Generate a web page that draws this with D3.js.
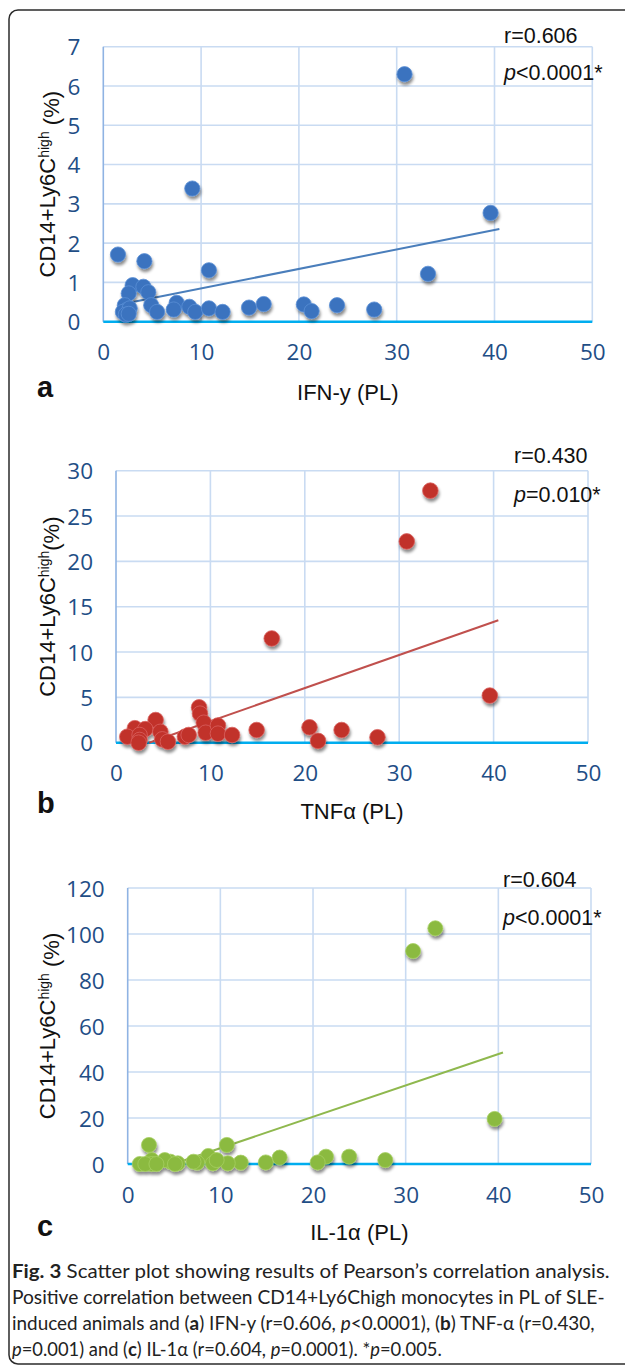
<!DOCTYPE html>
<html>
<head>
<meta charset="utf-8">
<script src="https://cdn.jsdelivr.net/npm/d3@7"></script>
<style>
  body { margin: 0; background: #fff; }
  svg { display: block; }
</style>
</head>
<body>
<div id="chart"></div>
<script>
// values
const xTicks = [0, 10, 20, 30, 40, 50]

const ifnX = [30.8, 9.1, 39.6, 1.5, 4.2, 10.8, 33.2, 3.0, 4.1, 2.6, 4.6, 2.2, 2.4, 2.0, 2.7, 4.9, 5.5, 7.5, 7.2, 8.8, 9.4, 10.8, 12.2, 14.9, 16.4, 20.5, 21.3, 23.9, 27.7, 2.3, 2.6]
const ifnY = [6.30, 3.39, 2.77, 1.71, 1.54, 1.31, 1.22, 0.93, 0.89, 0.72, 0.75, 0.42, 0.30, 0.25, 0.34, 0.42, 0.25, 0.48, 0.31, 0.38, 0.25, 0.34, 0.25, 0.36, 0.45, 0.44, 0.27, 0.42, 0.31, 0.18, 0.20]
const ifnTicks = [0, 1, 2, 3, 4, 5, 6, 7]
const ifnTrend = [[3.0, 0.50], [40.5, 2.36]]

const tnfX = [33.3, 30.8, 16.5, 39.6, 8.8, 8.9, 9.3, 9.5, 10.8, 10.8, 12.3, 14.9, 20.5, 21.4, 23.9, 27.7, 4.2, 2.0, 3.1, 4.7, 1.2, 2.5, 2.5, 2.4, 4.9, 5.5, 7.3, 7.7]
const tnfY = [27.8, 22.2, 11.5, 5.2, 3.9, 3.2, 2.2, 1.1, 1.9, 1.0, 0.85, 1.4, 1.7, 0.2, 1.4, 0.6, 2.5, 1.6, 1.5, 1.2, 0.66, 0.85, 0.3, 0.0, 0.37, 0.11, 0.66, 0.85]
const tnfTicks = [0, 5, 10, 15, 20, 25, 30]
const tnfTrend = [[3.5, 0.0], [40.5, 13.5]]

const il1X = [33.2, 30.8, 39.6, 2.3, 10.7, 8.7, 16.4, 21.4, 23.9, 27.8, 20.5, 14.9, 12.2, 10.8, 9.2, 7.5, 7.1, 5.4, 4.6, 4.0, 2.6, 2.6, 1.3, 1.9, 5.1, 9.6, 3.1]
const il1Y = [102.5, 92.6, 19.6, 8.3, 8.3, 3.5, 2.8, 3.2, 3.2, 1.7, 0.7, 0.7, 0.6, 0.3, 0.3, 0.6, 1.0, 0.3, 1.0, 1.7, 1.7, 0, 0, 0, 0, 1.7, 0]
const il1Ticks = [0, 20, 40, 60, 80, 100, 120]
const il1Trend = [[5.5, 0.75], [40.5, 48.5]]

const width = 625
const height = 1368

const svg = d3.select("#chart")
    .append("svg")
    .attr("width", width)
    .attr("height", height)

const defs = svg.append("defs")
defs.append("filter")
    .attr("id", "shadow")
    .attr("x", "-50%").attr("y", "-50%")
    .attr("width", "200%").attr("height", "200%")
  .append("feDropShadow")
    .attr("dx", 1).attr("dy", 3)
    .attr("stdDeviation", 1.8)
    .attr("flood-color", "#000")
    .attr("flood-opacity", 0.45)

// outer frame (right edge runs off the picture)
svg.append("rect")
    .attr("x", 9).attr("y", 10)
    .attr("width", 640).attr("height", 1354)
    .attr("rx", 9)
    .attr("fill", "none")
    .attr("stroke", "#2b2b2b")
    .attr("stroke-width", 1.5)

const panels = [
  { xs: ifnX, ys: ifnY, ticks: ifnTicks, trend: ifnTrend,
    left: 103.3, right: 592.3, top: 46.7, bottom: 321.7,
    fill: "#3b73bf", rim: "#5a8fd6", line: "#4a7ebb", r: 7.6,
    letter: "a", letterY: 397, title: "IFN-y (PL)", titleY: 400,
    yTitleRest: " (%)", rText: "r=0.606", pRel: "<", pVal: "0.0001*",
    statX: 504, rY: 43, pY: 80 },
  { xs: tnfX, ys: tnfY, ticks: tnfTicks, trend: tnfTrend,
    left: 116, right: 588, top: 470.7, bottom: 742.7,
    fill: "#c1302b", rim: "#d9635e", line: "#c0504d", r: 7.8,
    letter: "b", letterY: 813, title: "TNFα (PL)", titleY: 819,
    yTitleRest: "(%)", rText: "r=0.430", pRel: "=", pVal: "0.010*",
    statX: 514, rY: 463, pY: 502 },
  { xs: il1X, ys: il1Y, ticks: il1Ticks, trend: il1Trend,
    left: 127.7, right: 591, top: 888, bottom: 1164,
    fill: "#8bba3f", rim: "#a6cf62", line: "#8fb84e", r: 7.5,
    letter: "c", letterY: 1236, title: "IL-1α (PL)", titleY: 1240,
    yTitleRest: " (%)", rText: "r=0.604", pRel: "<", pVal: "0.0001*",
    statX: 503, rY: 887, pY: 925 }
]

panels.forEach(p => drawPanel(p))

function drawPanel(p) {
  const g = svg.append("g")
  const yMax = p.ticks[p.ticks.length - 1]

  const x = d3.scaleLinear().domain([0, 50]).range([p.left, p.right])
  const y = d3.scaleLinear().domain([0, yMax]).range([p.bottom, p.top])

  // grid
  g.selectAll(".hgrid")
      .data(p.ticks.slice(1))
      .join("line")
      .attr("x1", p.left).attr("x2", p.right)
      .attr("y1", d => y(d)).attr("y2", d => y(d))
      .attr("stroke", "#c9dbf2")
      .attr("stroke-width", 1.6)
  g.selectAll(".vgrid")
      .data(xTicks.slice(1))
      .join("line")
      .attr("x1", d => x(d)).attr("x2", d => x(d))
      .attr("y1", p.top).attr("y2", p.bottom)
      .attr("stroke", "#c9dbf2")
      .attr("stroke-width", 1.6)
  // left border
  g.append("line")
      .attr("x1", p.left).attr("x2", p.left)
      .attr("y1", p.top).attr("y2", p.bottom)
      .attr("stroke", "#8fb3e3")
      .attr("stroke-width", 1.6)

  // axes labels via d3 axes
  const yAxis = g.append("g")
      .attr("transform", `translate(${p.left - 23},0)`)
      .call(d3.axisLeft(y).tickValues(p.ticks).tickFormat(d3.format("d")).tickSize(0).tickPadding(0))
  const xAxis = g.append("g")
      .attr("transform", `translate(0,${p.bottom + 34})`)
      .call(d3.axisBottom(x).tickValues(xTicks).tickFormat(d3.format("d")).tickSize(0).tickPadding(0))
  ;[yAxis, xAxis].forEach(a => {
    a.select(".domain").remove()
    a.selectAll("text")
        .attr("fill", "#1f4e86")
        .style("font-family", "'Open Sans', sans-serif")
        .style("font-size", "22.5px")
  })
  yAxis.selectAll("text").attr("dy", "0.36em")
  xAxis.selectAll("text").attr("dy", "0.2em")

  // x axis line at zero
  g.append("line")
      .attr("x1", p.left).attr("x2", p.right)
      .attr("y1", y(0)).attr("y2", y(0))
      .attr("stroke", "#00adef")
      .attr("stroke-width", 2.6)

  // trend line
  g.append("line")
      .attr("x1", x(p.trend[0][0])).attr("y1", y(p.trend[0][1]))
      .attr("x2", x(p.trend[1][0])).attr("y2", y(p.trend[1][1]))
      .attr("stroke", p.line)
      .attr("stroke-width", 2)

  // points
  const pts = p.xs.map((v, i) => [v, p.ys[i]])
  g.append("g")
      .attr("filter", "url(#shadow)")
    .selectAll("circle")
      .data(pts)
      .join("circle")
      .attr("cx", d => x(d[0]))
      .attr("cy", d => y(d[1]))
      .attr("r", p.r)
      .attr("fill", p.fill)
      .attr("stroke", p.rim)
      .attr("stroke-width", 0.8)

  // stats
  g.append("text")
      .attr("x", p.statX).attr("y", p.rY)
      .style("font-family", "'Liberation Sans', Arial, sans-serif")
      .style("font-size", "21.5px")
      .attr("fill", "#111")
      .text(p.rText)
  const pt = g.append("text")
      .attr("x", p.statX).attr("y", p.pY)
      .style("font-family", "'Liberation Sans', Arial, sans-serif")
      .style("font-size", "21.5px")
      .attr("fill", "#111")
  pt.append("tspan").style("font-style", "italic").text("p")
  pt.append("tspan").text(p.pRel + p.pVal)

  // y title
  const yt = g.append("text")
      .attr("transform", `translate(55,${(p.top + p.bottom) / 2}) rotate(-90)`)
      .attr("text-anchor", "middle")
      .style("font-family", "'Liberation Sans', Arial, sans-serif")
      .style("font-size", "22px")
      .attr("fill", "#111")
  yt.append("tspan").text("CD14+Ly6C")
  yt.append("tspan").attr("dy", "-0.45em").style("font-size", "14px").text("high")
  yt.append("tspan").attr("dy", "0.45em").text(p.yTitleRest)

  // x title
  g.append("text")
      .attr("x", (p.left + p.right) / 2).attr("y", p.titleY)
      .attr("text-anchor", "middle")
      .style("font-family", "'Liberation Sans', Arial, sans-serif")
      .style("font-size", "22px")
      .attr("fill", "#111")
      .text(p.title)

  // panel letter
  g.append("text")
      .attr("x", 37).attr("y", p.letterY)
      .style("font-family", "'Liberation Sans', Arial, sans-serif")
      .style("font-size", "29px")
      .style("font-weight", "bold")
      .attr("fill", "#111")
      .text(p.letter)
}

// caption
const captionLines = [
  [["b", "Fig. 3"], ["", " Scatter plot showing results of Pearson’s correlation analysis."]],
  [["", "Positive correlation between CD14+Ly6Chigh monocytes in PL of SLE-"]],
  [["", "induced animals and ("], ["b", "a"], ["", ") IFN-y (r=0.606, "], ["i", "p"], ["", "<0.0001), ("], ["b", "b"], ["", ") TNF-α (r=0.430,"]],
  [["i", "p"], ["", "=0.001) and ("], ["b", "c"], ["", ") IL-1α (r=0.604, "], ["i", "p"], ["", "=0.0001). *"], ["i", "p"], ["", "=0.005."]]
]
const captionWidths = [598, 593, 583, 430]
const captionY = [1278, 1304, 1330, 1356]

// the caption face is narrower than any installed font, so squeeze each line horizontally
const captionScale = []
captionLines.forEach((line, i) => {
  const lg = svg.append("g")
  const t = lg.append("text")
      .attr("x", 0).attr("y", 0)
      .style("font-family", "Lato, 'Open Sans', sans-serif")
      .style("font-size", "19.5px")
      .attr("fill", "#222")
  line.forEach(([style, str]) => {
    const s = t.append("tspan").text(str)
    if (style === "b") s.style("font-weight", "bold")
    if (style === "i") s.style("font-style", "italic")
  })
  const natural = t.node().getComputedTextLength()
  captionScale.push(captionWidths[i] / natural)
  lg.attr("transform", `translate(12,${captionY[i]}) scale(${captionWidths[i] / natural},1)`)
})
</script>
</body>
</html>
